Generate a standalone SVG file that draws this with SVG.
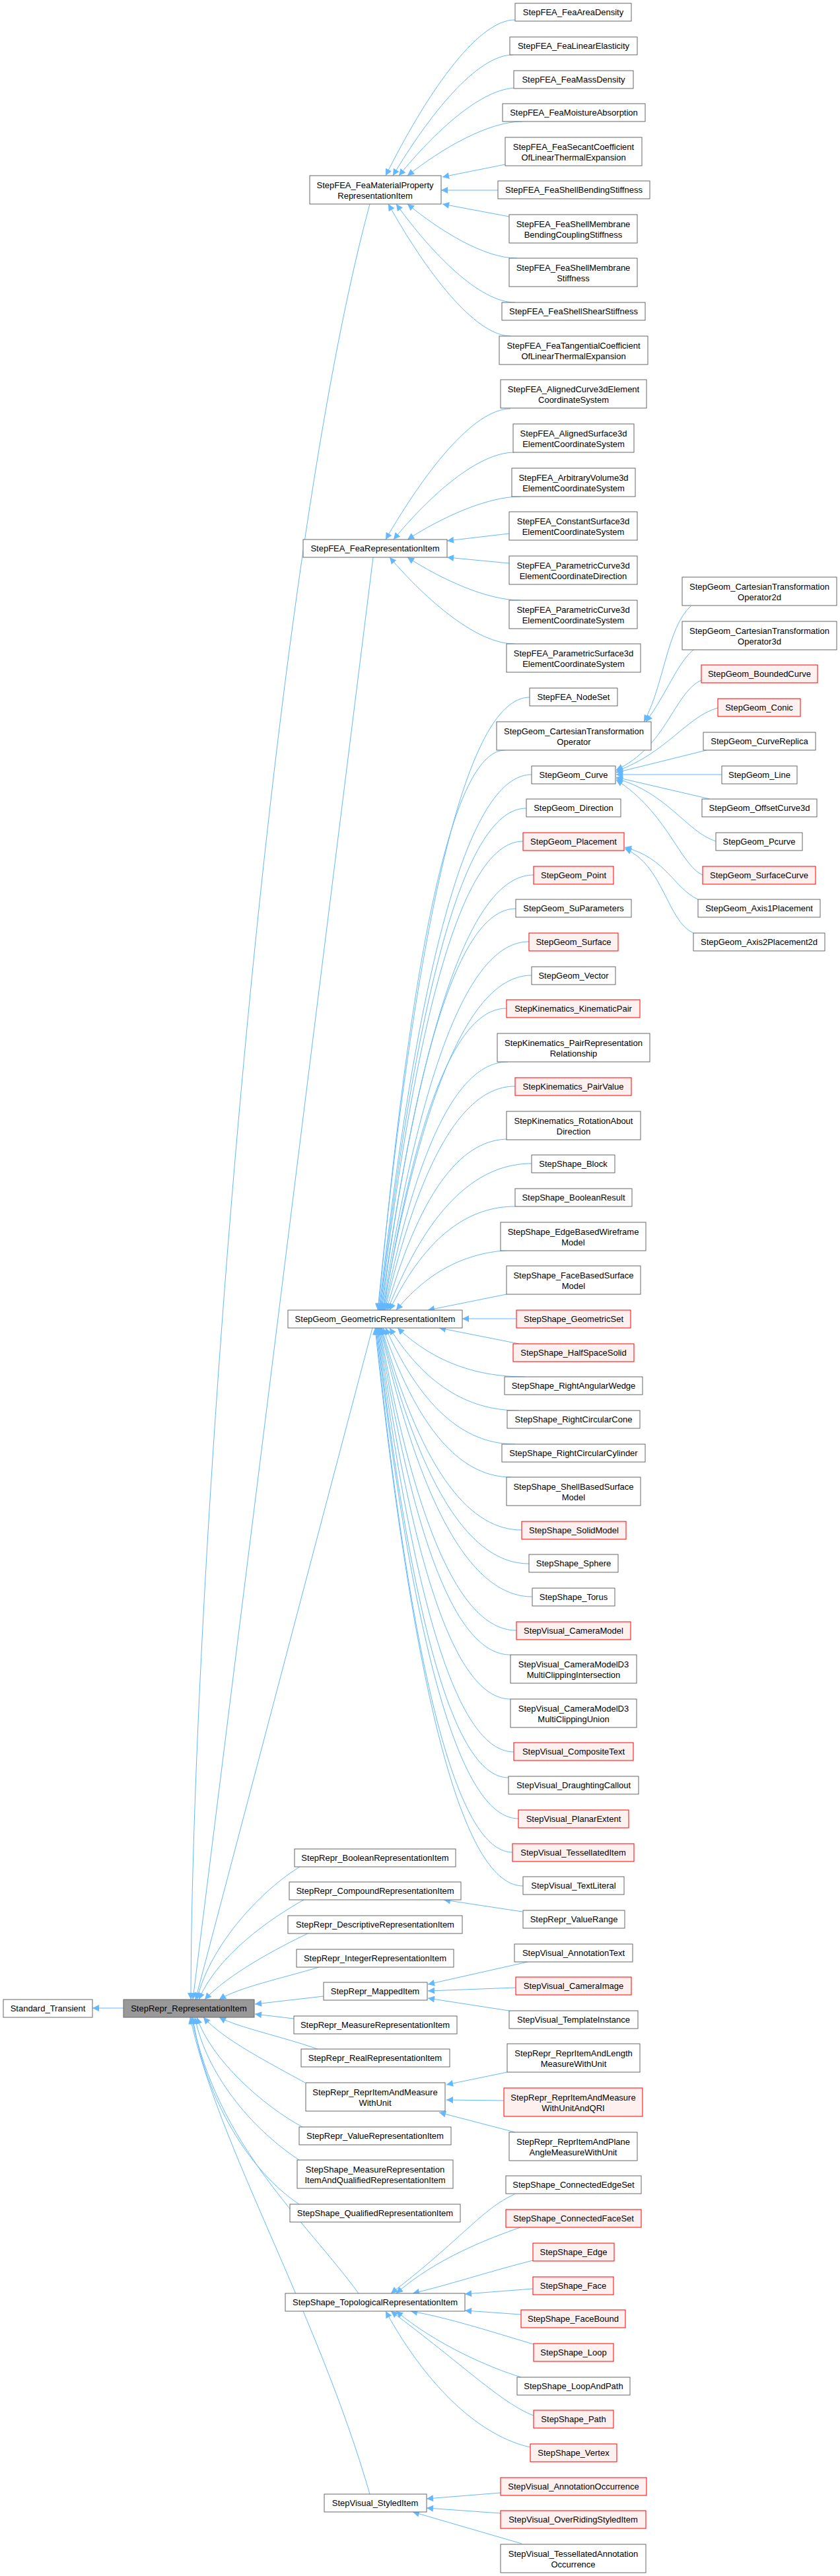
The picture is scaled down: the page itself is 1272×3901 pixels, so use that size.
<svg xmlns="http://www.w3.org/2000/svg" width="1272" height="3901" viewBox="0 0 1272 3901">
<style>
.n rect{fill:#fff;stroke:#666;stroke-width:1}
.r rect{fill:#fff0f0;stroke:#f00;stroke-width:1}
.root rect{fill:#999;stroke:#666;stroke-width:1}
text{font-family:"Liberation Sans",Arial,sans-serif;font-size:13px;text-anchor:middle;fill:#000}
.e path{fill:none;stroke:#63b8ff;stroke-width:1;marker-end:url(#a)}
</style>
<defs>
<marker id="a" viewBox="0 0 10 10" refX="10" refY="5" markerWidth="12" markerHeight="10" markerUnits="userSpaceOnUse" orient="auto">
<path d="M0,0 L10,5 L0,10 z" fill="#63b8ff"/>
</marker>
</defs>
<rect width="1272" height="3901" fill="#fff"/>
<g class="e" id="edges">
<path d="M780,30 C721,30 643,148 584,266"/>
<path d="M777,83 C722,83 650,174 595,266"/>
<path d="M783,133 C729,133 658,200 604,266"/>
<path d="M791,184 C739,184 669,225 617,266"/>
<path d="M765,249 L670,268"/>
<path d="M754,288 L668,288"/>
<path d="M771,328 L670,309"/>
<path d="M783,391 C733,391 667,350 617,309"/>
<path d="M780,458 C726,458 654,384 600,309"/>
<path d="M774,509 C718,509 644,409 588,309"/>
<path d="M773,619 C716,619 641,718 584,817"/>
<path d="M779,685 C724,685 651,750 596,817"/>
<path d="M788,752 C737,752 668,784 617,817"/>
<path d="M771,808 L677,819"/>
<path d="M771,853 L677,844"/>
<path d="M788,909 C737,909 668,877 617,844"/>
<path d="M779,975 C722,975 647,910 590,844"/>
<path d="M802,1056 C722,1056 641,1288 572,1984"/>
<path d="M765,1136 C698,1136 631,1348 573,1984"/>
<path d="M805,1173 C724,1173 643,1376 574,1984"/>
<path d="M797,1224 C719,1224 642,1414 575,1984"/>
<path d="M792,1274 C716,1274 641,1452 576,1984"/>
<path d="M808,1325 C727,1325 646,1490 577,1984"/>
<path d="M781,1376 C710,1376 639,1528 578,1984"/>
<path d="M801,1426 C723,1426 646,1566 579,1984"/>
<path d="M805,1477 C726,1477 648,1604 580,1984"/>
<path d="M767,1527 C702,1527 637,1641 581,1984"/>
<path d="M769,1608 C704,1608 638,1702 582,1984"/>
<path d="M780,1645 C711,1645 642,1730 583,1984"/>
<path d="M770,1725 C705,1725 640,1790 585,1984"/>
<path d="M805,1762 C729,1762 652,1818 587,1984"/>
<path d="M780,1827 C714,1827 647,1866 590,1984"/>
<path d="M785,1893 C720,1893 656,1916 600,1984"/>
<path d="M767,1960 L648,1984"/>
<path d="M782,1997 L700,1997"/>
<path d="M786,2035 L665,2011"/>
<path d="M795,2085 C727,2085 660,2066 602,2011"/>
<path d="M785,2136 C717,2136 649,2105 590,2011"/>
<path d="M780,2187 C711,2187 643,2143 584,2011"/>
<path d="M774,2237 C706,2237 638,2180 580,2011"/>
<path d="M790,2317 C716,2317 642,2240 578,2011"/>
<path d="M801,2368 C723,2368 644,2279 577,2011"/>
<path d="M806,2418 C726,2418 645,2316 576,2011"/>
<path d="M782,2469 C710,2469 637,2355 575,2011"/>
<path d="M773,2506 C703,2506 634,2382 574,2011"/>
<path d="M773,2573 C703,2573 633,2432 573,2011"/>
<path d="M778,2653 C706,2653 634,2492 572,2011"/>
<path d="M770,2692 C700,2692 631,2522 571,2011"/>
<path d="M785,2754 C710,2754 634,2568 570,2011"/>
<path d="M776,2805 C704,2805 631,2606 569,2011"/>
<path d="M792,2856 C714,2856 635,2645 568,2011"/>
<path d="M1046,918 C1010,950 1005,1040 975,1093"/>
<path d="M1050,984 C1025,1005 1010,1050 978,1093"/>
<path d="M1062,1030 C1020,1050 1010,1130 933,1166"/>
<path d="M1087,1072 C1040,1085 1010,1140 933,1168"/>
<path d="M1070,1136 L933,1170"/>
<path d="M1093,1173 L933,1173"/>
<path d="M1075,1210 L933,1177"/>
<path d="M1084,1274 C1040,1260 1010,1200 933,1179"/>
<path d="M1064,1325 C1030,1310 1010,1230 933,1181"/>
<path d="M1057,1362 C1020,1345 1010,1300 946,1283"/>
<path d="M1050,1413 C1010,1395 1005,1310 946,1285"/>
<path d="M560,309 C400,900 290,2400 289,3028"/>
<path d="M565,844 L292,3028"/>
<path d="M564,2011 L296,3028"/>
<path d="M454,2827 C400,2860 320,2940 298,3028"/>
<path d="M460,2877 C410,2905 330,2960 301,3028"/>
<path d="M466,2928 C420,2950 345,2990 310,3028"/>
<path d="M483,2979 C430,2995 360,3010 332,3028"/>
<path d="M490,3023 L386,3035"/>
<path d="M445,3057 L386,3050"/>
<path d="M481,3103 C430,3085 360,3070 332,3055"/>
<path d="M462,3154 C410,3125 340,3090 308,3055"/>
<path d="M458,3221 C400,3190 320,3120 298,3055"/>
<path d="M453,3271 C390,3230 315,3150 295,3055"/>
<path d="M453,3338 C380,3290 310,3180 292,3055"/>
<path d="M543,3473 C460,3360 330,3250 290,3055"/>
<path d="M560,3777 C480,3500 330,3250 288,3055"/>
<path d="M187,3041 L140,3041"/>
<path d="M791,2895 L672,2877"/>
<path d="M799,2971 L648,3005"/>
<path d="M781,3010 L648,3015"/>
<path d="M771,3045 L648,3026"/>
<path d="M768,3138 L676,3157"/>
<path d="M763,3181 L676,3180"/>
<path d="M780,3229 L665,3199"/>
<path d="M779,3323 C730,3345 700,3390 592,3473"/>
<path d="M788,3373 C740,3390 660,3420 600,3473"/>
<path d="M807,3423 C740,3440 680,3460 625,3473"/>
<path d="M807,3466 L704,3474"/>
<path d="M789,3505 L704,3499"/>
<path d="M808,3550 C740,3530 680,3510 622,3500"/>
<path d="M789,3600 C740,3585 660,3550 600,3500"/>
<path d="M808,3658 C760,3640 700,3580 592,3500"/>
<path d="M803,3706 C730,3690 650,3620 584,3500"/>
<path d="M758,3775 L646,3784"/>
<path d="M758,3806 L646,3798"/>
<path d="M790,3852 L625,3804"/>
</g>
<g id="Standard_Transient" class="n"><rect x="5" y="3028" width="135" height="27"/><text x="72.5" y="3046">Standard_Transient</text></g>
<g id="StepRepr_RepresentationItem" class="root"><rect x="187" y="3028" width="198" height="27"/><text x="286" y="3046">StepRepr_RepresentationItem</text></g>
<g id="FeaMaterial" class="n"><rect x="469" y="266" width="199" height="43"/><text x="568" y="284.5">StepFEA_FeaMaterialProperty</text><text x="568" y="300.5">RepresentationItem</text></g>
<g id="FeaRep" class="n"><rect x="459" y="817" width="218" height="27"/><text x="568" y="835">StepFEA_FeaRepresentationItem</text></g>
<g id="GeomRep" class="n"><rect x="436" y="1984" width="264" height="27"/><text x="568" y="2002">StepGeom_GeometricRepresentationItem</text></g>
<g id="BoolRep" class="n"><rect x="446" y="2800" width="244" height="27"/><text x="568" y="2818">StepRepr_BooleanRepresentationItem</text></g>
<g id="CompRep" class="n"><rect x="438" y="2850" width="260" height="27"/><text x="568" y="2868">StepRepr_CompoundRepresentationItem</text></g>
<g id="DescRep" class="n"><rect x="436" y="2901" width="264" height="27"/><text x="568" y="2919">StepRepr_DescriptiveRepresentationItem</text></g>
<g id="IntRep" class="n"><rect x="449" y="2952" width="238" height="27"/><text x="568" y="2970">StepRepr_IntegerRepresentationItem</text></g>
<g id="Mapped" class="n"><rect x="490" y="3002" width="157" height="27"/><text x="568" y="3020">StepRepr_MappedItem</text></g>
<g id="MeasRep" class="n"><rect x="445" y="3053" width="247" height="27"/><text x="568" y="3071">StepRepr_MeasureRepresentationItem</text></g>
<g id="RealRep" class="n"><rect x="456" y="3103" width="225" height="27"/><text x="568" y="3121">StepRepr_RealRepresentationItem</text></g>
<g id="RIAMWU" class="n"><rect x="463" y="3154" width="211" height="43"/><text x="568" y="3172.5">StepRepr_ReprItemAndMeasure</text><text x="568" y="3188.5">WithUnit</text></g>
<g id="ValRep" class="n"><rect x="453" y="3221" width="230" height="27"/><text x="568" y="3239">StepRepr_ValueRepresentationItem</text></g>
<g id="MeasQual" class="n"><rect x="450" y="3271" width="236" height="43"/><text x="568" y="3289.5">StepShape_MeasureRepresentation</text><text x="568" y="3305.5">ItemAndQualifiedRepresentationItem</text></g>
<g id="QualRep" class="n"><rect x="439" y="3338" width="258" height="27"/><text x="568" y="3356">StepShape_QualifiedRepresentationItem</text></g>
<g id="TopoRep" class="n"><rect x="432" y="3473" width="272" height="27"/><text x="568" y="3491">StepShape_TopologicalRepresentationItem</text></g>
<g id="Styled" class="n"><rect x="491" y="3777" width="155" height="27"/><text x="568" y="3795">StepVisual_StyledItem</text></g>
<g id="n1" class="n"><rect x="780" y="5" width="176" height="27"/><text x="868" y="23">StepFEA_FeaAreaDensity</text></g>
<g id="n2" class="n"><rect x="772" y="56" width="193" height="27"/><text x="868.5" y="74">StepFEA_FeaLinearElasticity</text></g>
<g id="n3" class="n"><rect x="778" y="107" width="181" height="27"/><text x="868.5" y="125">StepFEA_FeaMassDensity</text></g>
<g id="n4" class="n"><rect x="761" y="157" width="216" height="27"/><text x="869" y="175">StepFEA_FeaMoistureAbsorption</text></g>
<g id="n5" class="n"><rect x="765" y="208" width="207" height="43"/><text x="868.5" y="226.5">StepFEA_FeaSecantCoefficient</text><text x="868.5" y="242.5">OfLinearThermalExpansion</text></g>
<g id="n6" class="n"><rect x="754" y="274" width="230" height="27"/><text x="869" y="292">StepFEA_FeaShellBendingStiffness</text></g>
<g id="n7" class="n"><rect x="771" y="325" width="194" height="43"/><text x="868" y="343.5">StepFEA_FeaShellMembrane</text><text x="868" y="359.5">BendingCouplingStiffness</text></g>
<g id="n8" class="n"><rect x="771" y="391" width="194" height="43"/><text x="868" y="409.5">StepFEA_FeaShellMembrane</text><text x="868" y="425.5">Stiffness</text></g>
<g id="n9" class="n"><rect x="760" y="458" width="217" height="27"/><text x="868.5" y="476">StepFEA_FeaShellShearStiffness</text></g>
<g id="n10" class="n"><rect x="756" y="509" width="225" height="43"/><text x="868.5" y="527.5">StepFEA_FeaTangentialCoefficient</text><text x="868.5" y="543.5">OfLinearThermalExpansion</text></g>
<g id="n11" class="n"><rect x="758" y="575" width="221" height="43"/><text x="868.5" y="593.5">StepFEA_AlignedCurve3dElement</text><text x="868.5" y="609.5">CoordinateSystem</text></g>
<g id="n12" class="n"><rect x="777" y="642" width="183" height="43"/><text x="868.5" y="660.5">StepFEA_AlignedSurface3d</text><text x="868.5" y="676.5">ElementCoordinateSystem</text></g>
<g id="n13" class="n"><rect x="775" y="709" width="187" height="43"/><text x="868.5" y="727.5">StepFEA_ArbitraryVolume3d</text><text x="868.5" y="743.5">ElementCoordinateSystem</text></g>
<g id="n14" class="n"><rect x="771" y="775" width="194" height="43"/><text x="868" y="793.5">StepFEA_ConstantSurface3d</text><text x="868" y="809.5">ElementCoordinateSystem</text></g>
<g id="n15" class="n"><rect x="771" y="842" width="194" height="43"/><text x="868" y="860.5">StepFEA_ParametricCurve3d</text><text x="868" y="876.5">ElementCoordinateDirection</text></g>
<g id="n16" class="n"><rect x="771" y="909" width="194" height="43"/><text x="868" y="927.5">StepFEA_ParametricCurve3d</text><text x="868" y="943.5">ElementCoordinateSystem</text></g>
<g id="n17" class="n"><rect x="767" y="975" width="203" height="43"/><text x="868.5" y="993.5">StepFEA_ParametricSurface3d</text><text x="868.5" y="1009.5">ElementCoordinateSystem</text></g>
<g id="n18" class="n"><rect x="802" y="1042" width="133" height="27"/><text x="868.5" y="1060">StepFEA_NodeSet</text></g>
<g id="n19" class="n"><rect x="752" y="1093" width="234" height="43"/><text x="869" y="1111.5">StepGeom_CartesianTransformation</text><text x="869" y="1127.5">Operator</text></g>
<g id="n20" class="n"><rect x="805" y="1160" width="127" height="27"/><text x="868.5" y="1178">StepGeom_Curve</text></g>
<g id="n21" class="n"><rect x="797" y="1210" width="143" height="27"/><text x="868.5" y="1228">StepGeom_Direction</text></g>
<g id="n22" class="r"><rect x="792" y="1261" width="153" height="27"/><text x="868.5" y="1279">StepGeom_Placement</text></g>
<g id="n23" class="r"><rect x="808" y="1312" width="121" height="27"/><text x="868.5" y="1330">StepGeom_Point</text></g>
<g id="n24" class="n"><rect x="781" y="1362" width="175" height="27"/><text x="868.5" y="1380">StepGeom_SuParameters</text></g>
<g id="n25" class="r"><rect x="801" y="1413" width="135" height="27"/><text x="868.5" y="1431">StepGeom_Surface</text></g>
<g id="n26" class="n"><rect x="805" y="1464" width="127" height="27"/><text x="868.5" y="1482">StepGeom_Vector</text></g>
<g id="n27" class="r"><rect x="767" y="1514" width="202" height="27"/><text x="868" y="1532">StepKinematics_KinematicPair</text></g>
<g id="n28" class="n"><rect x="753" y="1565" width="231" height="43"/><text x="868.5" y="1583.5">StepKinematics_PairRepresentation</text><text x="868.5" y="1599.5">Relationship</text></g>
<g id="n29" class="r"><rect x="780" y="1632" width="176" height="27"/><text x="868" y="1650">StepKinematics_PairValue</text></g>
<g id="n30" class="n"><rect x="767" y="1683" width="203" height="43"/><text x="868.5" y="1701.5">StepKinematics_RotationAbout</text><text x="868.5" y="1717.5">Direction</text></g>
<g id="n31" class="n"><rect x="805" y="1749" width="126" height="27"/><text x="868" y="1767">StepShape_Block</text></g>
<g id="n32" class="n"><rect x="780" y="1800" width="177" height="27"/><text x="868.5" y="1818">StepShape_BooleanResult</text></g>
<g id="n33" class="n"><rect x="758" y="1851" width="220" height="43"/><text x="868" y="1869.5">StepShape_EdgeBasedWireframe</text><text x="868" y="1885.5">Model</text></g>
<g id="n34" class="n"><rect x="767" y="1917" width="203" height="43"/><text x="868.5" y="1935.5">StepShape_FaceBasedSurface</text><text x="868.5" y="1951.5">Model</text></g>
<g id="n35" class="r"><rect x="782" y="1984" width="173" height="27"/><text x="868.5" y="2002">StepShape_GeometricSet</text></g>
<g id="n36" class="r"><rect x="777" y="2035" width="183" height="27"/><text x="868.5" y="2053">StepShape_HalfSpaceSolid</text></g>
<g id="n37" class="n"><rect x="764" y="2085" width="209" height="27"/><text x="868.5" y="2103">StepShape_RightAngularWedge</text></g>
<g id="n38" class="n"><rect x="768" y="2136" width="201" height="27"/><text x="868.5" y="2154">StepShape_RightCircularCone</text></g>
<g id="n39" class="n"><rect x="760" y="2187" width="217" height="27"/><text x="868.5" y="2205">StepShape_RightCircularCylinder</text></g>
<g id="n40" class="n"><rect x="767" y="2237" width="203" height="43"/><text x="868.5" y="2255.5">StepShape_ShellBasedSurface</text><text x="868.5" y="2271.5">Model</text></g>
<g id="n41" class="r"><rect x="790" y="2304" width="158" height="27"/><text x="869" y="2322">StepShape_SolidModel</text></g>
<g id="n42" class="n"><rect x="801" y="2354" width="135" height="27"/><text x="868.5" y="2372">StepShape_Sphere</text></g>
<g id="n43" class="n"><rect x="806" y="2405" width="125" height="27"/><text x="868.5" y="2423">StepShape_Torus</text></g>
<g id="n44" class="r"><rect x="782" y="2456" width="173" height="27"/><text x="868.5" y="2474">StepVisual_CameraModel</text></g>
<g id="n45" class="n"><rect x="773" y="2506" width="191" height="43"/><text x="868.5" y="2524.5">StepVisual_CameraModelD3</text><text x="868.5" y="2540.5">MultiClippingIntersection</text></g>
<g id="n46" class="n"><rect x="773" y="2573" width="191" height="43"/><text x="868.5" y="2591.5">StepVisual_CameraModelD3</text><text x="868.5" y="2607.5">MultiClippingUnion</text></g>
<g id="n47" class="r"><rect x="778" y="2639" width="181" height="27"/><text x="868.5" y="2657">StepVisual_CompositeText</text></g>
<g id="n48" class="n"><rect x="770" y="2690" width="197" height="27"/><text x="868.5" y="2708">StepVisual_DraughtingCallout</text></g>
<g id="n49" class="r"><rect x="785" y="2741" width="167" height="27"/><text x="868.5" y="2759">StepVisual_PlanarExtent</text></g>
<g id="n50" class="r"><rect x="776" y="2792" width="184" height="27"/><text x="868" y="2810">StepVisual_TessellatedItem</text></g>
<g id="n51" class="n"><rect x="792" y="2842" width="153" height="27"/><text x="868.5" y="2860">StepVisual_TextLiteral</text></g>
<g id="n52" class="n"><rect x="792" y="2893" width="154" height="27"/><text x="869" y="2911">StepRepr_ValueRange</text></g>
<g id="n53" class="n"><rect x="779" y="2944" width="179" height="27"/><text x="868.5" y="2962">StepVisual_AnnotationText</text></g>
<g id="n54" class="r"><rect x="781" y="2994" width="175" height="27"/><text x="868.5" y="3012">StepVisual_CameraImage</text></g>
<g id="n55" class="n"><rect x="771" y="3045" width="195" height="27"/><text x="868.5" y="3063">StepVisual_TemplateInstance</text></g>
<g id="n56" class="n"><rect x="768" y="3095" width="201" height="43"/><text x="868.5" y="3113.5">StepRepr_ReprItemAndLength</text><text x="868.5" y="3129.5">MeasureWithUnit</text></g>
<g id="n57" class="r"><rect x="763" y="3162" width="210" height="43"/><text x="868" y="3180.5">StepRepr_ReprItemAndMeasure</text><text x="868" y="3196.5">WithUnitAndQRI</text></g>
<g id="n58" class="n"><rect x="771" y="3229" width="194" height="43"/><text x="868" y="3247.5">StepRepr_ReprItemAndPlane</text><text x="868" y="3263.5">AngleMeasureWithUnit</text></g>
<g id="n59" class="n"><rect x="766" y="3295" width="205" height="27"/><text x="868.5" y="3313">StepShape_ConnectedEdgeSet</text></g>
<g id="n60" class="r"><rect x="766" y="3346" width="205" height="27"/><text x="868.5" y="3364">StepShape_ConnectedFaceSet</text></g>
<g id="n61" class="r"><rect x="807" y="3397" width="123" height="27"/><text x="868.5" y="3415">StepShape_Edge</text></g>
<g id="n62" class="r"><rect x="807" y="3448" width="122" height="27"/><text x="868" y="3466">StepShape_Face</text></g>
<g id="n63" class="r"><rect x="789" y="3498" width="158" height="27"/><text x="868" y="3516">StepShape_FaceBound</text></g>
<g id="n64" class="r"><rect x="808" y="3549" width="121" height="27"/><text x="868.5" y="3567">StepShape_Loop</text></g>
<g id="n65" class="n"><rect x="783" y="3600" width="171" height="27"/><text x="868.5" y="3618">StepShape_LoopAndPath</text></g>
<g id="n66" class="r"><rect x="808" y="3650" width="121" height="27"/><text x="868.5" y="3668">StepShape_Path</text></g>
<g id="n67" class="r"><rect x="803" y="3701" width="131" height="27"/><text x="868.5" y="3719">StepShape_Vertex</text></g>
<g id="n68" class="r"><rect x="758" y="3752" width="221" height="27"/><text x="868.5" y="3770">StepVisual_AnnotationOccurrence</text></g>
<g id="n69" class="r"><rect x="758" y="3802" width="220" height="27"/><text x="868" y="3820">StepVisual_OverRidingStyledItem</text></g>
<g id="n70" class="n"><rect x="758" y="3853" width="220" height="43"/><text x="868" y="3871.5">StepVisual_TessellatedAnnotation</text><text x="868" y="3887.5">Occurrence</text></g>
<g id="c1" class="n"><rect x="1033" y="874" width="234" height="43"/><text x="1150" y="892.5">StepGeom_CartesianTransformation</text><text x="1150" y="908.5">Operator2d</text></g>
<g id="c2" class="n"><rect x="1033" y="941" width="234" height="43"/><text x="1150" y="959.5">StepGeom_CartesianTransformation</text><text x="1150" y="975.5">Operator3d</text></g>
<g id="c3" class="r"><rect x="1062" y="1007" width="176" height="27"/><text x="1150" y="1025">StepGeom_BoundedCurve</text></g>
<g id="c4" class="r"><rect x="1087" y="1058" width="125" height="27"/><text x="1149.5" y="1076">StepGeom_Conic</text></g>
<g id="c5" class="n"><rect x="1065" y="1109" width="170" height="27"/><text x="1150" y="1127">StepGeom_CurveReplica</text></g>
<g id="c6" class="n"><rect x="1093" y="1160" width="114" height="27"/><text x="1150" y="1178">StepGeom_Line</text></g>
<g id="c7" class="n"><rect x="1063" y="1210" width="174" height="27"/><text x="1150" y="1228">StepGeom_OffsetCurve3d</text></g>
<g id="c8" class="n"><rect x="1084" y="1261" width="131" height="27"/><text x="1149.5" y="1279">StepGeom_Pcurve</text></g>
<g id="c9" class="r"><rect x="1064" y="1312" width="171" height="27"/><text x="1149.5" y="1330">StepGeom_SurfaceCurve</text></g>
<g id="c10" class="n"><rect x="1057" y="1362" width="185" height="27"/><text x="1149.5" y="1380">StepGeom_Axis1Placement</text></g>
<g id="c11" class="n"><rect x="1050" y="1413" width="199" height="27"/><text x="1149.5" y="1431">StepGeom_Axis2Placement2d</text></g>
</svg>
